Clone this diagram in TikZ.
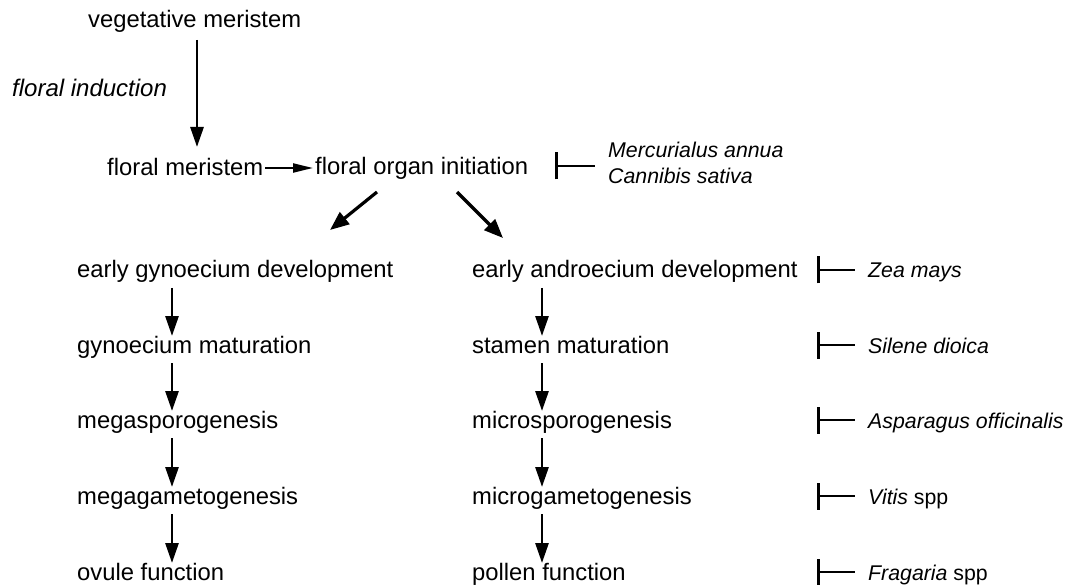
\documentclass[tikz,border=0pt]{standalone}
\usepackage{fontspec}
\setmainfont{Liberation Sans}
\usetikzlibrary{arrows.meta,calc}
\begin{document}
\begin{tikzpicture}[x=1pt,y=-1pt,
  lbl/.style={anchor=base west,inner sep=0pt,font=\fontsize{23.8}{28}\selectfont},
  sp/.style={anchor=base west,inner sep=0pt,font=\fontsize{21.3}{26}\selectfont\itshape},
  arr/.style={line width=2.8pt,-{Triangle[length=20pt,width=13pt]}},
  harr/.style={line width=2.2pt,-{Triangle[length=20pt,width=9pt]}},
  darr/.style={line width=3.2pt,-{Triangle[length=19pt,width=15pt]}},
  inh/.style={line width=2.2pt,{Bar[width=27pt,line width=3pt]}-}
]
\useasboundingbox (0,0) rectangle (1068,585);
% top part
\node[lbl] (veg) at (88,28) {vegetative meristem};
\node[lbl,font=\fontsize{24}{28}\selectfont\itshape] (ind) at (12,97) {floral induction};
\node[lbl] (fm) at (107,176) {floral meristem};
\node[lbl] (fo) at (315,175) {floral organ initiation};
\node[sp] (mer) at (608,158) {Mercurialus annua};
\node[sp] (can) at (608,184) {Cannibis sativa};
\coordinate (b0) at (555,166);
% columns
\coordinate (cl) at (172,0);
\coordinate (cr) at (542,0);
\node[lbl] (egd) at (77,278) {early gynoecium development};
\node[lbl] (gm)  at (77,353) {gynoecium maturation};
\node[lbl] (mes) at (77,428) {megasporogenesis};
\node[lbl] (meg) at (77,504) {megagametogenesis};
\node[lbl] (ov)  at (77,580) {ovule function};
\node[lbl] (ead) at (472,278) {early androecium development};
\node[lbl] (sm)  at (472,353) {stamen maturation};
\node[lbl] (mis) at (472,428) {microsporogenesis};
\node[lbl] (mig) at (472,504) {microgametogenesis};
\node[lbl] (pf)  at (472,580) {pollen function};
% species
\node[sp] (zea) at (868,278) {Zea mays};
\node[sp] (sil) at (868,353) {Silene dioica};
\node[sp] (asp) at (868,428) {Asparagus officinalis};
\node[sp] (vit) at (868,504) {Vitis\/ \upshape spp};
\node[sp] (fra) at (868,580) {Fragaria\/ \upshape spp};
\coordinate (b1) at (817,270);
\coordinate (b2) at (817,345);
\coordinate (b3) at (817,420);
\coordinate (b4) at (817,496);
\coordinate (b5) at (817,572);
% arrows top
\draw[arr] ($(veg.base west)+(109,12)$) -- ($(fm.base west)+(90,-29)$);
\draw[harr] ($(fm.base east)+(2,-8)$) -- ($(fo.base west)+(-2,-7)$);
\draw[darr] ($(fo.base west)+(62,17)$) -- ($(egd.base west)+(253,-48)$);
\draw[darr] ($(fo.base west)+(142,17)$) -- ($(ead.base west)+(31,-40)$);
% column arrows
\foreach \a/\b in {egd/gm,gm/mes,mes/meg,meg/ov}{
  \draw[arr] ($(\a.base -| cl)+(0,10)$) -- ($(\b.base -| cl)+(0,-17)$);
}
\foreach \a/\b in {ead/sm,sm/mis,mis/mig,mig/pf}{
  \draw[arr] ($(\a.base -| cr)+(0,10)$) -- ($(\b.base -| cr)+(0,-17)$);
}
% inhibitors
\draw[inh,shorten >=13pt] (b0) -- (b0 -| mer.west);
\foreach \c/\n in {b1/zea,b2/sil,b3/asp,b4/vit,b5/fra}{
  \draw[inh,shorten >=13pt] (\c) -- (\c -| \n.west);
}
\end{tikzpicture}
\end{document}
